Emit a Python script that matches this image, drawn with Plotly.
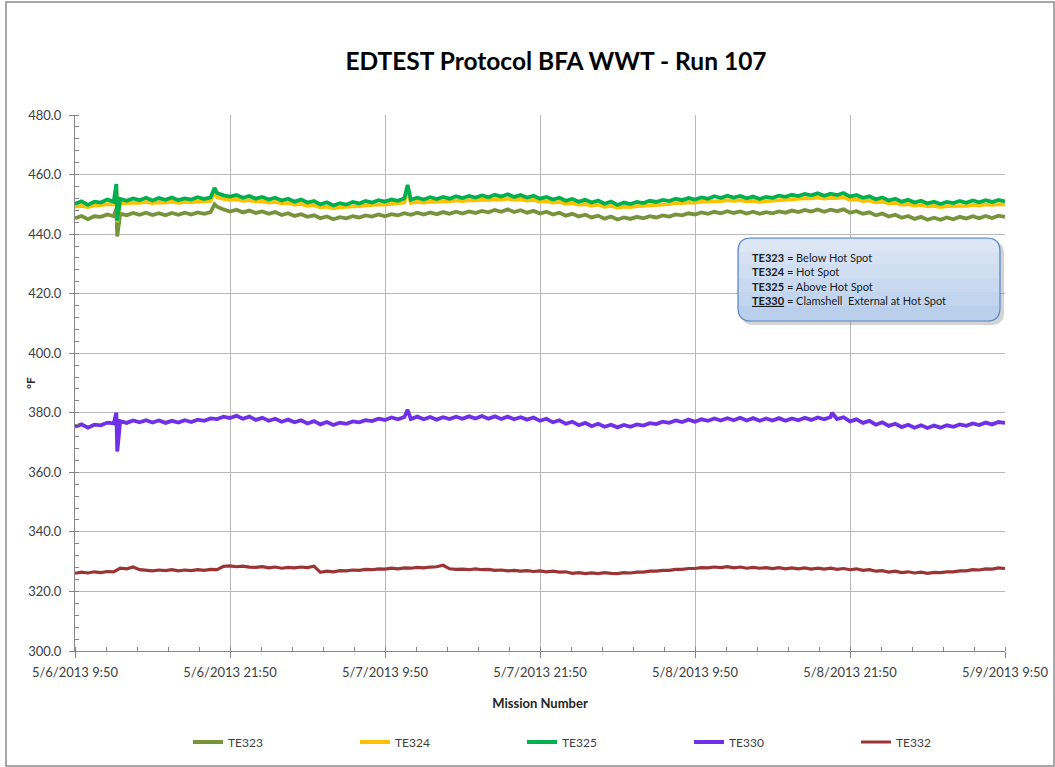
import plotly.graph_objects as go
from datetime import datetime, timedelta

# ---------------- data ----------------
TITLE = "EDTEST Protocol BFA WWT - Run 107"
X_TITLE = "Mission Number"
Y_TITLE = "°F"
START = datetime(2013, 5, 6, 9, 50)
STEP_HOURS = 0.5          # sampling step of the series below (145 samples over 72 h)

SERIES_NAMES = ["TE323", "TE324", "TE325", "TE330", "TE332"]
SERIES_COLORS = ["#77933c", "#ffc000", "#00b050", "#7030e8", "#9b3434"]

TE323 = [
    445.3, 446.1, 445.0, 446.0, 445.8, 446.6, 446.0, 446.9, 446.3, 447.1, 446.5, 447.2,
    446.4, 447.0, 446.3, 447.1, 446.5, 447.2, 446.6, 447.3, 446.8, 447.4, 449.2, 448.3,
    447.6, 448.2, 447.3, 447.9, 447.1, 447.6, 446.8, 447.4, 446.4, 447.0, 446.1, 446.7,
    445.8, 446.3, 445.3, 445.9, 445.0, 445.7, 445.3, 446.0, 445.6, 446.3, 445.9, 446.6,
    446.0, 446.7, 446.3, 447.0, 446.5, 447.2, 446.6, 447.3, 446.7, 447.4, 446.8, 447.5,
    446.9, 447.6, 447.1, 447.8, 447.3, 448.1, 447.5, 448.3, 447.4, 448.0, 447.2, 447.8,
    446.9, 447.5, 446.6, 447.2, 446.2, 446.8, 445.9, 446.5, 445.6, 446.2, 445.2, 445.9,
    444.9, 445.6, 445.1, 445.8, 445.3, 446.0, 445.6, 446.3, 445.9, 446.6, 446.3, 447.0,
    446.6, 447.3, 446.8, 447.5, 447.0, 447.7, 447.1, 447.6, 446.9, 447.5, 446.8, 447.4,
    447.0, 447.6, 447.2, 447.9, 447.4, 448.1, 447.6, 448.3, 447.5, 448.2, 447.7, 448.3,
    447.2, 447.7, 446.8, 447.3, 446.3, 446.9, 445.9, 446.5, 445.5, 446.1, 445.1, 445.8,
    444.8, 445.5, 444.8, 445.6, 445.0, 445.8, 445.2, 446.0, 445.3, 446.1, 445.4, 446.2,
    445.8,
]
TE324 = [
    449.2, 449.5, 449.1, 449.6, 449.7, 450.1, 450.0, 450.4, 450.3, 450.6, 450.5, 450.8,
    450.4, 450.7, 450.6, 450.9, 450.5, 450.8, 450.7, 451.0, 450.9, 451.2, 452.4, 451.8,
    451.5, 451.7, 451.2, 451.4, 450.9, 451.1, 450.6, 450.8, 450.3, 450.5, 449.9, 450.1,
    449.5, 449.7, 449.0, 449.2, 448.7, 449.0, 449.0, 449.3, 449.4, 449.7, 449.7, 450.0,
    449.9, 450.2, 450.3, 450.6, 450.5, 450.8, 450.6, 450.9, 450.8, 451.1, 451.0, 451.3,
    451.1, 451.4, 451.3, 451.6, 451.4, 451.7, 451.6, 451.9, 451.5, 451.7, 451.3, 451.5,
    450.9, 451.1, 450.6, 450.8, 450.2, 450.4, 449.9, 450.1, 449.6, 449.9, 449.2, 449.5,
    448.9, 449.2, 449.1, 449.4, 449.5, 449.8, 449.8, 450.1, 450.1, 450.5, 450.4, 450.7,
    450.6, 450.9, 450.9, 451.2, 451.1, 451.4, 451.2, 451.4, 451.0, 451.2, 450.8, 451.1,
    451.2, 451.5, 451.5, 451.8, 451.8, 452.1, 452.0, 452.3, 451.9, 452.2, 452.1, 452.4,
    451.5, 451.7, 451.1, 451.3, 450.7, 450.9, 450.3, 450.5, 449.9, 450.1, 449.6, 449.8,
    449.3, 449.5, 449.1, 449.4, 449.4, 449.7, 449.5, 449.8, 449.7, 450.0, 449.8, 450.1,
    450.0,
]
TE325 = [
    450.2, 451.0, 449.8, 450.9, 450.6, 451.6, 450.9, 451.8, 451.2, 452.0, 451.4, 452.2,
    451.3, 452.1, 451.5, 452.3, 451.4, 452.0, 451.6, 452.4, 451.8, 452.3, 453.8, 453.0,
    452.6, 453.1, 452.2, 452.8, 451.9, 452.5, 451.6, 452.2, 451.3, 451.9, 450.9, 451.6,
    450.6, 451.1, 450.0, 450.7, 449.6, 450.4, 449.9, 450.8, 450.3, 451.1, 450.6, 451.4,
    450.9, 451.6, 451.2, 452.0, 451.5, 452.2, 451.6, 452.4, 451.8, 452.5, 451.9, 452.7,
    452.1, 452.8, 452.3, 453.0, 452.4, 453.2, 452.6, 453.4, 452.5, 453.1, 452.3, 452.9,
    451.9, 452.5, 451.6, 452.2, 451.2, 451.8, 450.9, 451.5, 450.6, 451.3, 450.2, 450.9,
    449.8, 450.6, 450.1, 450.8, 450.4, 451.2, 450.8, 451.5, 451.1, 451.9, 451.4, 452.1,
    451.6, 452.3, 451.9, 452.7, 452.1, 452.9, 452.3, 452.8, 452.0, 452.6, 451.8, 452.5,
    452.2, 452.9, 452.5, 453.2, 452.8, 453.5, 453.0, 453.7, 452.9, 453.6, 453.1, 453.8,
    452.6, 453.1, 452.2, 452.7, 451.7, 452.3, 451.3, 451.9, 450.9, 451.5, 450.6, 451.2,
    450.3, 450.9, 450.1, 450.8, 450.4, 451.1, 450.5, 451.3, 450.7, 451.4, 450.8, 451.5,
    451.0,
]
TE330 = [
    375.3, 376.1, 375.0, 376.0, 375.8, 376.7, 376.4, 377.2, 376.6, 377.4, 376.8, 377.5,
    376.7, 377.4, 376.6, 377.3, 376.7, 377.5, 376.9, 377.7, 377.3, 378.1, 377.9, 378.7,
    378.2, 379.0, 378.0, 378.7, 377.6, 378.3, 377.3, 378.0, 377.0, 377.7, 376.8, 377.5,
    376.4, 377.2, 376.1, 376.9, 375.9, 376.7, 376.3, 377.1, 376.8, 377.5, 377.2, 378.0,
    377.6, 378.4, 377.8, 378.6, 377.9, 378.7, 377.8, 378.6, 377.7, 378.5, 377.9, 378.7,
    378.0, 378.8, 378.1, 378.9, 378.0, 378.8, 377.9, 378.7, 377.8, 378.5, 377.7, 378.4,
    377.3, 378.0, 376.8, 377.5, 376.3, 377.0, 375.8, 376.6, 375.5, 376.3, 375.3, 376.0,
    375.1, 375.9, 375.3, 376.1, 375.7, 376.5, 376.2, 377.0, 376.6, 377.4, 376.9, 377.7,
    377.0, 377.8, 377.3, 378.1, 377.4, 378.2, 377.5, 378.3, 377.4, 378.2, 377.3, 378.1,
    377.4, 378.2, 377.3, 378.1, 377.5, 378.3, 377.6, 378.4, 377.8, 378.6, 377.9, 378.5,
    377.1, 377.8, 376.6, 377.3, 376.0, 376.8, 375.6, 376.3, 375.2, 376.0, 375.0, 375.8,
    374.9, 375.7, 375.0, 375.8, 375.3, 376.1, 375.6, 376.4, 375.9, 376.7, 376.1, 376.9,
    376.6,
]
TE332 = [
    326.1, 326.5, 326.2, 326.6, 326.3, 326.7, 326.6, 327.8, 327.6, 328.2, 327.3, 327.1,
    326.9, 327.2, 327.0, 327.3, 326.9, 327.2, 327.0, 327.3, 327.1, 327.4, 327.3, 328.4,
    328.6, 328.3, 328.5, 328.2, 328.1, 328.3, 327.9, 328.2, 327.8, 328.1, 327.9, 328.2,
    328.0, 328.5, 326.4, 326.8, 326.6, 327.0, 326.9, 327.2, 327.1, 327.4, 327.3, 327.6,
    327.5, 327.8, 327.6, 327.9, 327.8, 328.1, 327.9, 328.2, 328.3, 328.8, 327.6, 327.4,
    327.5, 327.3, 327.6, 327.3, 327.4, 327.1, 327.2, 326.9, 327.1, 326.8, 327.0, 326.7,
    326.9, 326.6, 326.8, 326.5, 326.6, 326.1, 326.3, 326.0, 326.2, 326.0, 326.3, 326.1,
    326.0, 326.3, 326.2, 326.5, 326.5, 326.8, 326.8, 327.1, 327.1, 327.4, 327.4, 327.7,
    327.7, 328.0, 327.9, 328.2, 328.0, 328.3, 327.9, 328.2, 327.8, 328.1, 327.8, 328.0,
    327.7, 328.0, 327.6, 327.9, 327.6, 327.9, 327.5, 327.8, 327.5, 327.8, 327.4, 327.7,
    327.3, 327.6, 327.1, 327.3, 326.8, 327.0, 326.5, 326.8, 326.3, 326.6, 326.2, 326.5,
    326.1, 326.4, 326.3, 326.6, 326.6, 326.9, 326.9, 327.3, 327.2, 327.6, 327.5, 327.9,
    327.7,
]

# short excursions between regular samples: (hours after start, value)
SPIKES_TE323 = [(3.2, 448.5), (3.27, 439.2), (10.8, 450.0)]
SPIKES_TE324 = [(3.2, 455.0), (3.27, 444.0), (10.8, 454.0), (25.75, 455.0)]
SPIKES_TE325 = [(3.2, 456.8), (3.27, 444.5), (10.8, 455.5), (25.75, 456.5)]
SPIKES_TE330 = [(3.2, 380.0), (3.27, 367.0), (25.75, 381.0), (58.6, 380.0)]
SPIKES_TE332 = []

TICK_HOURS = [0, 12, 24, 36, 48, 60, 72]
TICK_LABELS = ["5/6/2013 9:50", "5/6/2013 21:50", "5/7/2013 9:50", "5/7/2013 21:50",
               "5/8/2013 9:50", "5/8/2013 21:50", "5/9/2013 9:50"]
MINOR_STEP_HOURS = 2.4
Y_MIN, Y_MAX, Y_STEP, Y_MINOR = 300, 480, 20, 4

LEGEND_NOTE = [("TE323", "Below Hot Spot", False), ("TE324", "Hot Spot", False),
               ("TE325", "Above Hot Spot", False), ("TE330", "Clamshell  External at Hot Spot", True)]

# ---------------- figure ----------------
W, H = 1055, 767
L, R, T, B = 75, 50, 115, 116
PW, PH = W - L - R, H - T - B


def px_x(px):
    return (px - L) / PW


def px_y(py):
    return (H - B - py) / PH


def build(values, spikes):
    pts = [(i * STEP_HOURS, v) for i, v in enumerate(values)] + list(spikes)
    pts.sort(key=lambda p: p[0])
    return [START + timedelta(hours=h) for h, _ in pts], [v for _, v in pts]


series = [TE323, TE324, TE325, TE330, TE332]
spikes = [SPIKES_TE323, SPIKES_TE324, SPIKES_TE325, SPIKES_TE330, SPIKES_TE332]
widths = [3.8, 3.8, 3.8, 3.8, 3.2]

FONT = "Lato, 'Open Sans', sans-serif"
fig = go.Figure()
for name, color, vals, sp, w in zip(SERIES_NAMES, SERIES_COLORS, series, spikes, widths):
    xs, ys = build(vals, sp)
    fig.add_trace(go.Scatter(x=xs, y=ys, name=name, mode="lines",
                             line=dict(color=color, width=w)))

x0 = START
x1 = START + timedelta(hours=TICK_HOURS[-1])
minor_vals = [START + timedelta(hours=MINOR_STEP_HOURS * k)
              for k in range(int(round(TICK_HOURS[-1] / MINOR_STEP_HOURS)) + 1)]

fig.update_layout(
    width=W, height=H,
    margin=dict(l=L, r=R, t=T, b=B, autoexpand=False),
    paper_bgcolor="white", plot_bgcolor="white",
    title=dict(text="<b>" + TITLE + "</b>", x=556 / W, xanchor="center",
               y=1 - 61 / H, yanchor="middle",
               font=dict(family=FONT, size=24.5, color="#000000")),
    font=dict(family=FONT, size=13, color="#404040"),
    showlegend=True,
    legend=dict(orientation="h", x=px_x(188), y=px_y(742), xanchor="left", yanchor="middle",
                entrywidth=122, entrywidthmode="pixels", font=dict(size=12, color="#404040"),
                itemwidth=30, bgcolor="rgba(0,0,0,0)", traceorder="normal"),
    xaxis=dict(
        type="date", range=[x0, x1], automargin=False,
        tickmode="array", tickvals=[START + timedelta(hours=h) for h in TICK_HOURS],
        ticktext=TICK_LABELS,
        showgrid=True, gridcolor="#b9b9b9", gridwidth=1,
        showline=True, linecolor="#868686", linewidth=1,
        ticks="outside", ticklen=6, tickcolor="#868686", ticklabelstandoff=3,
        minor=dict(tickmode="array", tickvals=minor_vals, ticks="inside", ticklen=4,
                   tickcolor="#868686", showgrid=False),
        tickfont=dict(size=13, color="#404040"),
        title=dict(text="<b>" + X_TITLE + "</b>", font=dict(size=13, color="#262626"), standoff=20),
        zeroline=False,
    ),
    yaxis=dict(
        range=[Y_MIN, Y_MAX], dtick=Y_STEP, tick0=Y_MIN, tickformat=".1f", automargin=False,
        showgrid=True, gridcolor="#b9b9b9", gridwidth=1,
        showline=True, linecolor="#868686", linewidth=1,
        ticks="outside", ticklen=5, tickcolor="#868686", ticklabelstandoff=5,
        minor=dict(dtick=Y_MINOR, ticks="inside", ticklen=4, tickcolor="#868686", showgrid=False),
        tickfont=dict(size=13, color="#404040"),
        zeroline=False,
    ),
)

# y-axis title placed where the reference has it
fig.add_annotation(xref="paper", yref="paper", x=px_x(30), y=px_y(383), xanchor="center",
                   yanchor="middle", textangle=-90, showarrow=False,
                   text="<b>" + Y_TITLE + "</b>", font=dict(family=FONT, size=12, color="#262626"))

# outer frame of the chart
fig.add_shape(type="rect", xref="paper", yref="paper",
              x0=px_x(6), x1=px_x(1054), y0=px_y(766), y1=px_y(2),
              line=dict(color="#8c8c8c", width=1.5), fillcolor="rgba(0,0,0,0)", layer="below")


def P(x, y):
    return f"{px_x(x):.5f},{px_y(y):.5f}"


def rounded(xl, xr, yt, yb, r):
    return (f"M {P(xl + r, yt)} L {P(xr - r, yt)} Q {P(xr, yt)} {P(xr, yt + r)} "
            f"L {P(xr, yb - r)} Q {P(xr, yb)} {P(xr - r, yb)} L {P(xl + r, yb)} "
            f"Q {P(xl, yb)} {P(xl, yb - r)} L {P(xl, yt + r)} Q {P(xl, yt)} {P(xl + r, yt)} Z")


def top_rounded(xl, xr, yt, yb, r):
    return (f"M {P(xl + r, yt)} L {P(xr - r, yt)} Q {P(xr, yt)} {P(xr, yt + r)} "
            f"L {P(xr, yb)} L {P(xl, yb)} L {P(xl, yt + r)} Q {P(xl, yt)} {P(xl + r, yt)} Z")


# note box (rounded rectangle) with soft shadow and vertical light-to-dark shading
fig.add_shape(type="path", xref="paper", yref="paper", path=rounded(741, 1004, 241, 325, 13),
              fillcolor="rgba(110,110,110,0.30)", line=dict(width=0))
fig.add_shape(type="path", xref="paper", yref="paper", path=rounded(738, 1000, 238, 321, 13),
              fillcolor="#b9cfec", line=dict(width=0))
for yb in (306, 292, 278, 264, 252):
    fig.add_shape(type="path", xref="paper", yref="paper", path=top_rounded(739, 999, 239, yb, 12),
                  fillcolor="rgba(255,255,255,0.13)", line=dict(width=0))
fig.add_shape(type="path", xref="paper", yref="paper", path=rounded(738, 1000, 238, 321, 13),
              fillcolor="rgba(0,0,0,0)", line=dict(color="#5b86c2", width=1.2))

lines = []
for code, desc, underline in LEGEND_NOTE:
    c = f"<b>{code}</b>"
    if underline:
        c = f"<u>{c}</u>"
    lines.append(f"{c} = {desc}")
fig.add_annotation(xref="paper", yref="paper", x=px_x(750), y=px_y(279), xanchor="left",
                   yanchor="middle", align="left", showarrow=False,
                   text="<br>".join(lines),
                   font=dict(family=FONT, size=11, color="#1a1a1a"))

# remove the browser's default 8px page margin so the figure sits at the window origin
fig.write_html("out.html", config={"displayModeBar": False},
               post_script="document.body.style.margin='0px';")
